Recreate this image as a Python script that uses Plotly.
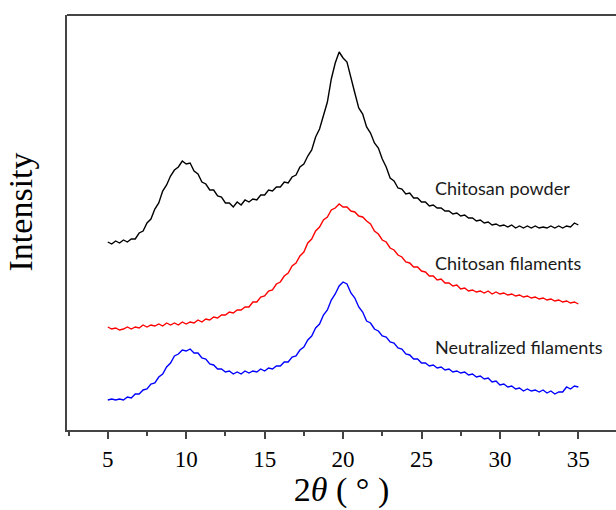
import plotly.graph_objects as go

# Diffraction angle grid (2-theta, degrees)
two_theta = [5 + 0.25 * i for i in range(121)]

# Intensities (a.u., curves stacked with vertical offsets)
chitosan_powder = [
    188, 186, 189, 187, 190, 188, 191, 191, 197, 199, 207, 211, 221, 227, 239, 245,
    254, 260, 263, 269, 266, 267, 259, 256, 248, 246, 240, 240, 234, 233, 227, 227,
    223, 228, 225, 230, 228, 231, 230, 235, 235, 240, 239, 243, 243, 248, 247, 253,
    255, 263, 266, 274, 280, 293, 301, 314, 328, 351, 367, 378, 372, 368, 351, 337,
    322, 316, 303, 297, 287, 282, 271, 263, 252, 249, 242, 241, 236, 237, 232, 232,
    228, 228, 224, 225, 222, 222, 219, 219, 216, 217, 214, 215, 212, 212, 209, 210,
    207, 208, 205, 206, 204, 205, 203, 205, 202, 204, 202, 204, 202, 204, 202, 203,
    202, 204, 202, 204, 202, 204, 203, 207, 205,
]

chitosan_filaments = [
    103, 101, 102, 100, 101, 103, 101, 103, 102, 105, 103, 105, 104, 106, 104, 107,
    105, 107, 105, 108, 106, 108, 107, 110, 108, 111, 110, 113, 112, 115, 115, 118,
    117, 120, 120, 123, 123, 128, 128, 133, 134, 139, 140, 146, 148, 154, 157, 164,
    167, 174, 178, 187, 191, 199, 203, 210, 213, 220, 222, 226, 223, 223, 219, 218,
    214, 213, 209, 206, 199, 196, 190, 188, 182, 180, 175, 173, 168, 167, 163, 163,
    159, 158, 154, 154, 150, 151, 147, 147, 144, 145, 141, 142, 139, 140, 138, 139,
    137, 139, 136, 138, 136, 137, 135, 136, 134, 135, 133, 134, 132, 133, 131, 132,
    130, 131, 129, 130, 128, 129, 127, 128, 126,
]

neutralized_filaments = [
    30, 31, 30, 31, 30, 33, 32, 36, 36, 40, 41, 46, 47, 53, 56, 63,
    67, 74, 76, 80, 79, 81, 77, 77, 72, 71, 66, 65, 61, 61, 58, 59,
    56, 58, 56, 59, 57, 59, 58, 61, 59, 62, 61, 64, 64, 68, 68, 73,
    74, 80, 83, 90, 94, 102, 106, 115, 120, 130, 136, 144, 148, 146, 137, 132,
    123, 118, 109, 107, 101, 99, 94, 93, 88, 87, 82, 81, 76, 75, 71, 71,
    67, 67, 64, 65, 62, 63, 60, 61, 58, 59, 57, 58, 55, 56, 53, 54,
    51, 52, 48, 49, 45, 46, 43, 44, 41, 42, 39, 41, 39, 40, 38, 40,
    37, 39, 36, 38, 38, 43, 41, 44, 43,
]

series_names = ["Chitosan powder", "Chitosan filaments", "Neutralized filaments"]
series_values = [chitosan_powder, chitosan_filaments, neutralized_filaments]
series_colors = ["#000000", "#ff0000", "#0000ff"]
label_y = [242, 167, 83.5]

x_ticks = [5, 10, 15, 20, 25, 30, 35]

fig = go.Figure()
for name, vals, col in zip(series_names, series_values, series_colors):
    fig.add_trace(go.Scatter(
        x=two_theta, y=vals, mode="lines", name=name,
        line=dict(color=col, width=1.4), showlegend=False,
    ))

for name, ly in zip(series_names, label_y):
    fig.add_annotation(
        x=25.73, y=ly, xref="x", yref="y", text=name, showarrow=False,
        xanchor="left", yanchor="middle",
        font=dict(family="Lato", size=18, color="#1a1a1a"),
    )

# Y-axis title placed as rotated text
fig.add_annotation(
    x=-0.085, y=0.525, xref="paper", yref="paper", text="Intensity",
    textangle=-90, showarrow=False, xanchor="center", yanchor="middle",
    font=dict(family="Liberation Serif", size=34, color="#000000"),
)

# Top frame line (the right side stays open)
fig.add_shape(type="line", xref="paper", yref="paper", x0=0, x1=1, y0=1, y1=1,
              line=dict(color="#444444", width=1.8))

fig.update_layout(
    width=616, height=510,
    margin=dict(l=67, r=0, t=15, b=80),
    paper_bgcolor="white", plot_bgcolor="white",
    xaxis=dict(
        range=[2.4, 37.4], tickvals=x_ticks, ticktext=[str(t) for t in x_ticks],
        showgrid=False, zeroline=False, showline=True, linecolor="#444444", linewidth=1.8,
        ticks="outside", ticklen=7, tickwidth=1.8, tickcolor="#444444",
        minor=dict(dtick=2.5, tick0=2.5, ticks="outside", ticklen=4, tickwidth=1.5,
                   tickcolor="#444444", showgrid=False),
        tickfont=dict(family="Liberation Serif", size=23, color="#000000"),
        title=dict(text="2<i>θ</i> ( ° )", standoff=4,
                   font=dict(family="Liberation Serif", size=34, color="#000000")),
    ),
    yaxis=dict(
        range=[0, 415], showticklabels=False, ticks="", showgrid=False, zeroline=False,
        showline=True, linecolor="#444444", linewidth=1.8,
    ),
)

fig.write_html("out.html")
